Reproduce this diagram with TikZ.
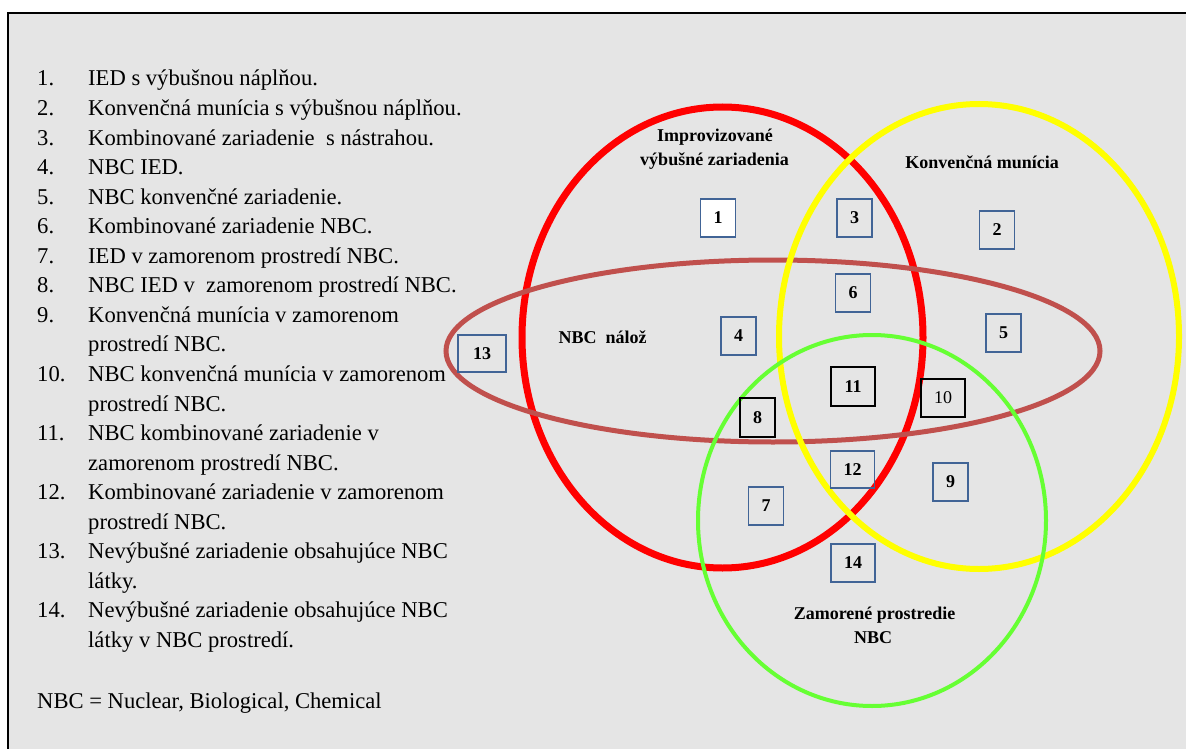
\documentclass[tikz,border=0pt]{standalone}
\usepackage{fontspec}
\setmainfont{Liberation Serif}
\definecolor{panel}{RGB}{229,229,229}
\definecolor{ringred}{RGB}{255,0,0}
\definecolor{ringyellow}{RGB}{255,255,0}
\definecolor{ringbrown}{RGB}{192,80,77}
\definecolor{ringgreen}{RGB}{102,255,51}
\definecolor{boxblue}{RGB}{65,100,150}
\begin{document}
\begin{tikzpicture}[x=1pt,y=-1pt,
  item/.style={anchor=base west, inner sep=0pt, font=\fontsize{22.6}{27}\selectfont},
  setlabel/.style={anchor=base, inner sep=0pt, font=\bfseries\fontsize{18}{22}\selectfont},
  numbox/.style={draw=boxblue, line width=1.5pt, inner sep=0pt,
    minimum width=35pt, minimum height=38pt, font=\bfseries\fontsize{18}{22}\selectfont},
  wide/.style={minimum width=44pt},
  strong/.style={draw=black, line width=2pt},
  ring/.style={line width=#1}
]
% page and framed panel
\useasboundingbox (0,0) rectangle (1186,749);
\fill[white] (0,0) rectangle (1186,749);
\fill[panel] (8,13) rectangle (1186,749);
\draw[line width=2pt] (1186,13) -- (8,13) -- (8,749);

% numbered legend
\foreach \k/\num in {0/1.,1/2.,2/3.,3/4.,4/5.,5/6.,6/7.,7/8.,8/9.,10/10.,12/11.,14/12.,16/13.,18/14.}
  \node[item] (num\k) at (37,{86+29.55*\k}) {\num};
\foreach \k/\txt in {
  0/IED s výbušnou náplňou.,
  1/Konvenčná munícia s výbušnou náplňou.,
  2/Kombinované zariadenie~ s nástrahou.,
  3/NBC IED.,
  4/NBC konvenčné zariadenie.,
  5/Kombinované zariadenie NBC.,
  6/IED v zamorenom prostredí NBC.,
  7/NBC IED v~ zamorenom prostredí NBC.,
  8/Konvenčná munícia v zamorenom,
  9/prostredí NBC.,
  10/NBC konvenčná munícia v zamorenom,
  11/prostredí NBC.,
  12/NBC kombinované zariadenie v,
  13/zamorenom prostredí NBC.,
  14/Kombinované zariadenie v zamorenom,
  15/prostredí NBC.,
  16/Nevýbušné zariadenie obsahujúce NBC,
  17/látky.,
  18/Nevýbušné zariadenie obsahujúce NBC,
  19/látky v NBC prostredí.}
  \node[item] (txt\k) at (88,{86+29.55*\k}) {\txt};
\node[item] (abbr) at (37,708) {NBC = Nuclear, Biological, Chemical};

% the four sets
\draw[ringred, ring=7pt] (722.5,337.5) ellipse [x radius=200.5pt, y radius=230.5pt];
\draw[ringbrown, ring=5pt] (773,351) ellipse [x radius=327pt, y radius=91pt];
\draw[ringyellow, ring=6pt] (979,336.5) ellipse [x radius=200pt, y radius=232.5pt];
\draw[ringgreen, ring=4pt] (872,520.5) ellipse [x radius=174pt, y radius=185.5pt];

% set names
\node[setlabel] (ied1) at (715,142) {Improvizované};
\node[setlabel] (ied2) at (714.5,165) {výbušné zariadenia};
\node[setlabel] (konv) at (982,168) {Konvenčná munícia};
\node[setlabel] (naloz) at (602.5,343) {NBC~ nálož};
\node[setlabel] (zam1) at (874.5,619) {Zamorené prostredie};
\node[setlabel] (zam2) at (873,643) {NBC};

% region numbers
\node[numbox, fill=white] (b1) at (718,218) {1};
\node[numbox] (b3) at (854.5,218) {3};
\node[numbox] (b2) at (997,230) {2};
\node[numbox] (b6) at (853,293) {6};
\node[numbox] (b4) at (738.5,336) {4};
\node[numbox] (b5) at (1003.5,333) {5};
\node[numbox, minimum width=48pt, minimum height=37pt] (b13) at (482,353.5) {13};
\node[numbox, wide, strong, minimum height=39pt] (b11) at (853,386.5) {11};
\node[numbox, wide, strong, font=\fontsize{18}{22}\selectfont] (b10) at (943,398) {10};
\node[numbox, strong, minimum height=39pt] (b8) at (757.5,417.5) {8};
\node[numbox, wide, minimum height=37pt] (b12) at (852.5,469.5) {12};
\node[numbox] (b9) at (950.5,482) {9};
\node[numbox] (b7) at (766,506) {7};
\node[numbox, wide] (b14) at (853,563) {14};
\end{tikzpicture}
\end{document}
